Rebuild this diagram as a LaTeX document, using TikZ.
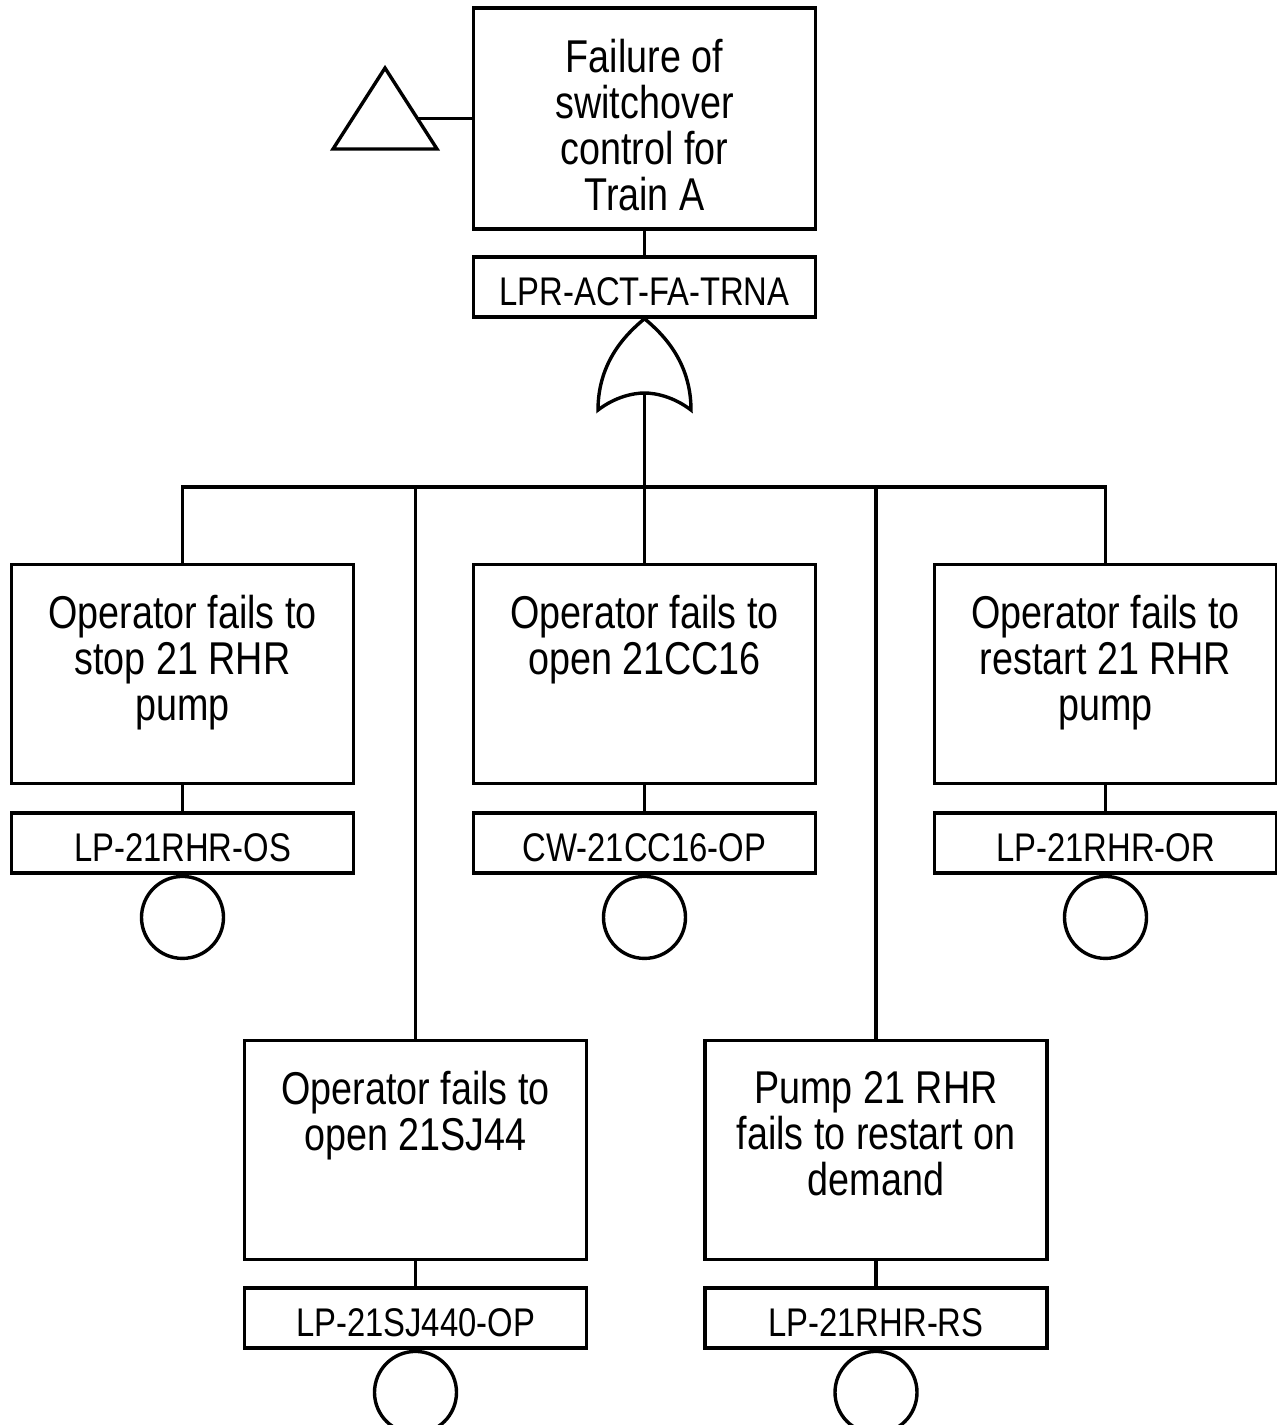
\documentclass[tikz,border=0pt]{standalone}
\usepackage{fontspec}
\setmainfont[FakeStretch=0.82]{Liberation Sans}
\begin{document}
\begin{tikzpicture}[x=0.5pt,y=-0.5pt,line width=1.7pt,line join=miter,
  evbox/.style={draw, minimum width=171pt, minimum height=109.5pt, inner sep=0pt},
  evtext/.style={align=center, inner sep=0pt, anchor=north, font=\fontsize{23}{23}\selectfont},
  lblbox/.style={draw, minimum width=171pt, minimum height=30pt, inner sep=0pt, text height=18.9pt, text depth=0pt, font=\fontsize{20}{20}\selectfont},
  basic/.style={draw, circle, minimum size=41pt, inner sep=0pt, anchor=north}]
\fill[white] (0,0) rectangle (1277,1425);
\useasboundingbox (0,0) rectangle (1277,1425);

% top event
\node[evbox, minimum height=110.5pt] (T) at (644.5,118.5) {};
\node[evtext] (Tt) at ([yshift=-15.5pt]T.north) {Failure of\\switchover\\control for\\Train A};
\node[lblbox] (LT) at (644.5,287) {LPR-ACT-FA-TRNA};
\draw (T.south) -- (LT.north);

% transfer triangle
\draw (333,149) -- (385,68) -- (437,149) -- cycle;
\coordinate (triR) at (418,118.5);
\draw (triR) -- (triR -| T.west);

% OR gate
\coordinate (gtop) at (LT.south);
\coordinate (gbot) at (644.5,393);
\draw (598,410) .. controls (598,362) and (626,334) .. (gtop)
  .. controls (663,334) and (691,362) .. (691,410)
  .. controls (674,397) and (656,393) .. (gbot)
  .. controls (633,393) and (615,397) .. (598,410) -- cycle;

% first row
\node[evbox] (B1) at (182.5,674) {};
\node[evtext] (B1t) at ([yshift=-15.5pt]B1.north) {Operator fails to\\stop 21 RHR\\pump};
\node[lblbox] (L1) at (182.5,843) {LP-21RHR-OS};
\node[basic] (C1) at (L1.south) {};

\node[evbox] (B3) at (644.5,674) {};
\node[evtext] (B3t) at ([yshift=-15.5pt]B3.north) {Operator fails to\\open 21CC16};
\node[lblbox] (L3) at (644.5,843) {CW-21CC16-OP};
\node[basic] (C3) at (L3.south) {};

\node[evbox] (B5) at (1105.5,674) {};
\node[evtext] (B5t) at ([yshift=-15.5pt]B5.north) {Operator fails to\\restart 21 RHR\\pump};
\node[lblbox] (L5) at (1105.5,843) {LP-21RHR-OR};
\node[basic] (C5) at (L5.south) {};

% second row
\node[evbox] (B2) at (415.5,1150) {};
\node[evtext] (B2t) at ([yshift=-15.5pt]B2.north) {Operator fails to\\open 21SJ44};
\node[lblbox] (L2) at (415.5,1318) {LP-21SJ440-OP};
\node[basic] (C2) at (L2.south) {};

\node[evbox] (B4) at (876,1150) {};
\node[evtext] (B4t) at ([yshift=-15.5pt]B4.north) {Pump 21 RHR\\fails to restart on\\demand};
\node[lblbox] (L4) at (876,1318) {LP-21RHR-RS};
\node[basic] (C4) at (L4.south) {};

% box-to-label links
\foreach \b/\l in {B1/L1,B3/L3,B5/L5,B2/L2,B4/L4} \draw (\b.south) -- (\l.north);

% distribution bar
\coordinate (barL) at (182.5,487);
\coordinate (barR) at (1105.5,487);
\draw (B1.north) -- (barL) -- (barR) -- (B5.north);
\draw (gbot) -- (B3.north);
\draw (B2.north) -- (B2.north |- barL);
\draw (B4.north) -- (B4.north |- barL);
\end{tikzpicture}
\end{document}
